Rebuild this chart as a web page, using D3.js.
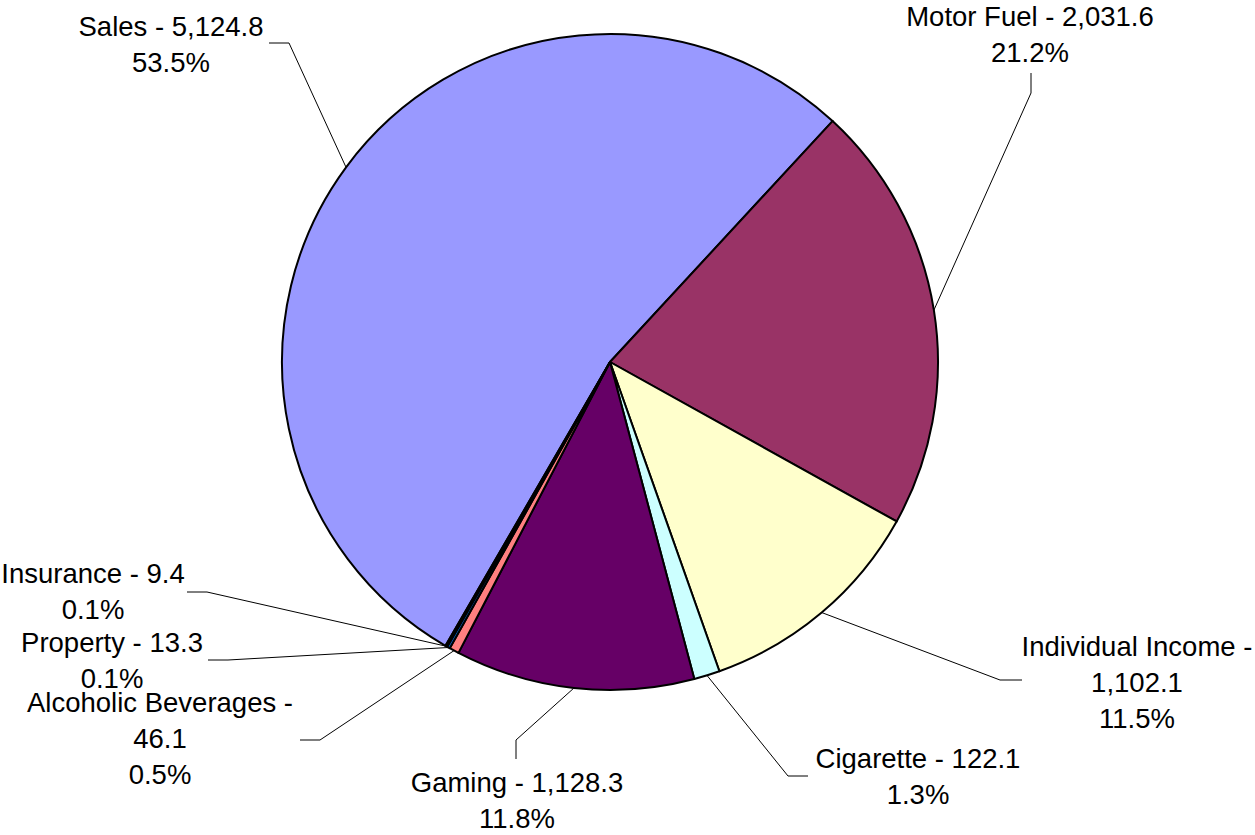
<!DOCTYPE html>
<html>
<head>
<meta charset="utf-8">
<script src="https://cdn.jsdelivr.net/npm/d3@7"></script>
<style>
  body { margin: 0; background: #fff; }
  text { font-family: "Liberation Sans", Arial, sans-serif; font-size: 27.5px; fill: #000; }
</style>
</head>
<body>
<svg width="1255" height="835"></svg>
<script>
// data, clockwise from the Sales slice
var categories = ["Sales", "Motor Fuel", "Individual Income", "Cigarette", "Gaming",
                  "Alcoholic Beverages", "Property", "Insurance"];
var values = [5124.8, 2031.6, 1102.1, 122.1, 1128.3, 46.1, 13.3, 9.4];
var colors = ["#9999FF", "#993366", "#FFFFCC", "#CCFFFF", "#660066", "#FF8080", "#0066CC", "#CCCCFF"];

// label layout: text centre, first baseline, leader end and elbow, where the name wraps
var labelLayout = [
  {x: 171,  y: 36,  end: [269, 43],  elbow: [289, 43],  wrap: false},
  {x: 1030, y: 26,  end: [1031, 73], elbow: [1031, 93], wrap: false},
  {x: 1137, y: 656, end: [1022, 680], elbow: [1000, 680], wrap: true},
  {x: 918,  y: 768, end: [808, 776], elbow: [788, 776], wrap: false},
  {x: 517,  y: 792, end: [516, 759], elbow: [516, 740], wrap: false},
  {x: 160,  y: 712, end: [300, 740], elbow: [320, 740], wrap: true},
  {x: 112,  y: 652, end: [208, 660], elbow: [228, 660], wrap: false},
  {x: 93,   y: 583, end: [187, 592], elbow: [207, 592], wrap: false}
];

var svg = d3.select("svg"),
    cx = 610, cy = 362, radius = 328,
    lineHeight = 36,
    g = svg.append("g").attr("transform", "translate(" + cx + "," + cy + ")");

var total = d3.sum(values);
var fmtVal = d3.format(",.1f"),
    fmtPct = d3.format(".1%");

var startDeg = 210.1;
var pie = d3.pie()
    .sort(null)
    .startAngle(startDeg * Math.PI / 180)
    .endAngle(startDeg * Math.PI / 180 + 2 * Math.PI);

var arc = d3.arc().innerRadius(0).outerRadius(radius);

var arcs = pie(values);

g.selectAll(".slice")
  .data(arcs)
  .enter().append("path")
    .attr("class", "slice")
    .attr("d", arc)
    .style("fill", function(d, i) { return colors[i]; })
    .style("stroke", "#000")
    .style("stroke-width", 2)
    .style("stroke-linejoin", "round");

// leader lines from slice mid-point on the rim
var leader = d3.line();
svg.selectAll(".leader")
  .data(arcs)
  .enter().append("path")
    .attr("class", "leader")
    .attr("d", function(d, i) {
      var a = (d.startAngle + d.endAngle) / 2,
          p = [cx + radius * Math.sin(a), cy - radius * Math.cos(a)],
          L = labelLayout[i];
      return leader([p, L.elbow, L.end]);
    })
    .style("fill", "none")
    .style("stroke", "#000")
    .style("stroke-width", 1);

var labels = svg.selectAll(".label")
  .data(arcs)
  .enter().append("text")
    .attr("class", "label")
    .attr("text-anchor", "middle")
    .attr("x", function(d, i) { return labelLayout[i].x; })
    .attr("y", function(d, i) { return labelLayout[i].y; });

labels.each(function(d, i) {
  var L = labelLayout[i],
      lines = L.wrap
        ? [categories[i] + " -", fmtVal(values[i]), fmtPct(values[i] / total)]
        : [categories[i] + " - " + fmtVal(values[i]), fmtPct(values[i] / total)];
  d3.select(this).selectAll("tspan")
    .data(lines)
    .enter().append("tspan")
      .attr("x", L.x)
      .attr("y", function(t, k) { return L.y + k * lineHeight; })
      .text(function(t) { return t; });
});
</script>
</body>
</html>
